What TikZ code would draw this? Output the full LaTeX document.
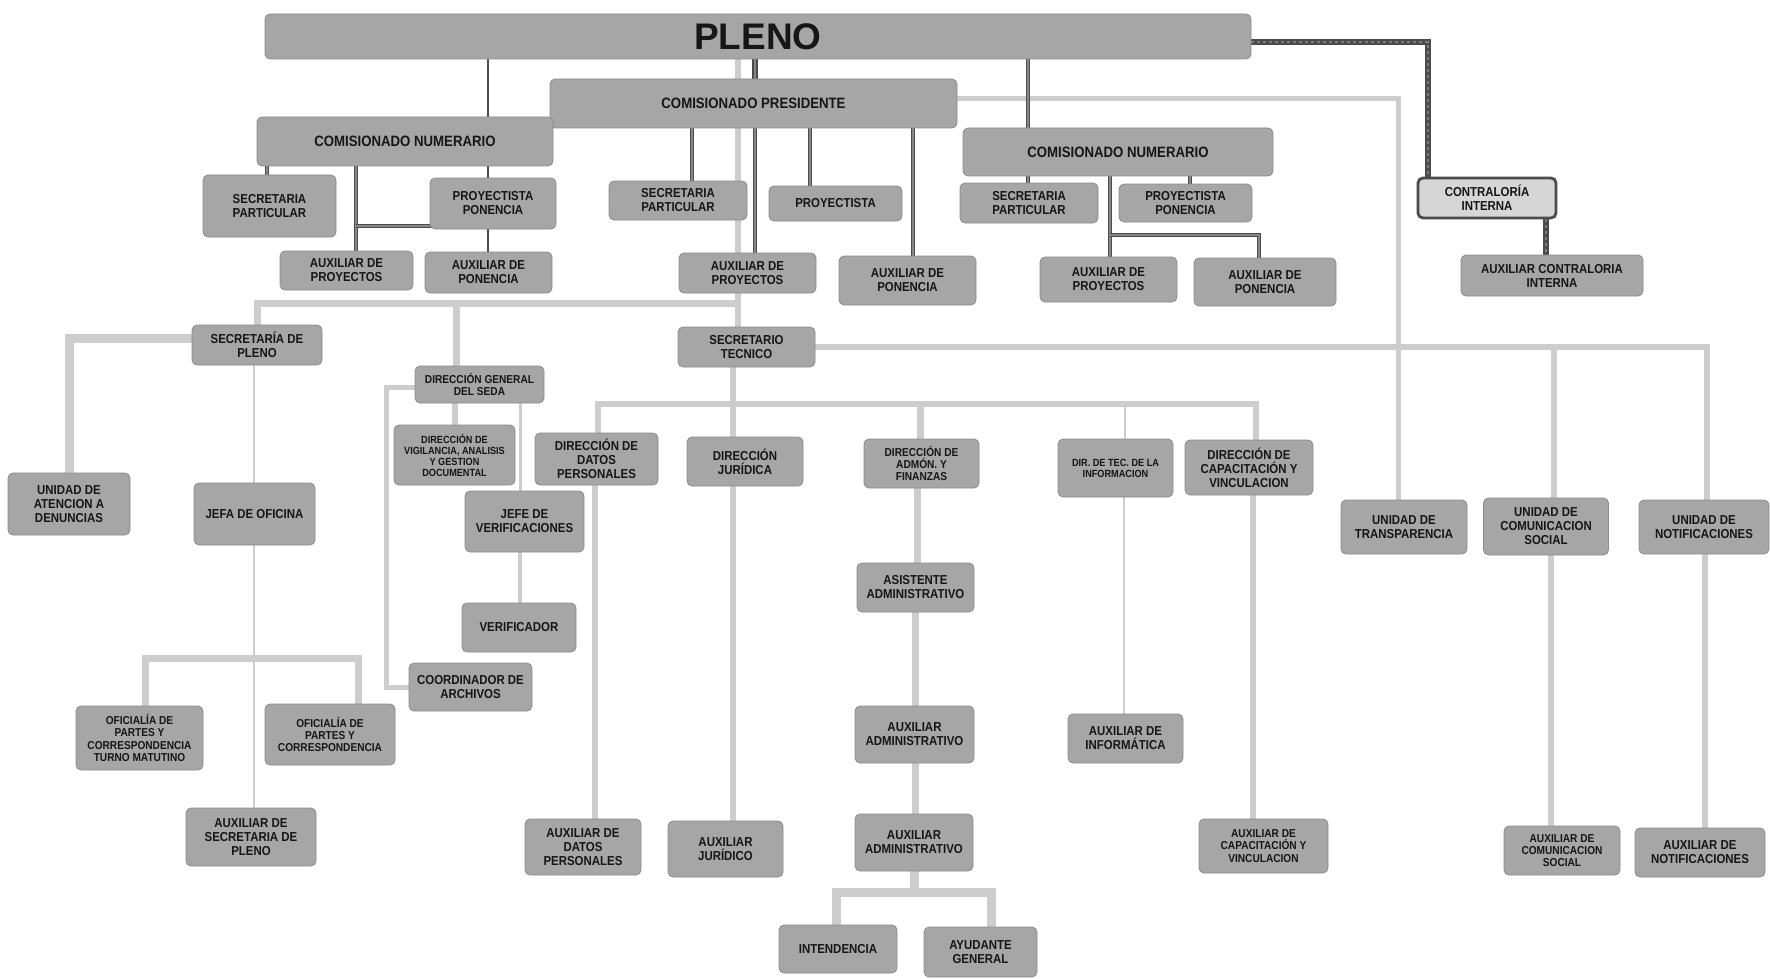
\documentclass[tikz,border=0pt]{standalone}
\usepackage{fontspec}
\setmainfont{Liberation Sans}[FakeStretch=0.88]
\newfontfamily\plenofont{Liberation Sans}
\definecolor{boxc}{RGB}{166,166,166}
\definecolor{boxe}{RGB}{140,140,140}
\definecolor{lgt}{RGB}{205,205,205}
\definecolor{dkc}{RGB}{75,75,75}
\definecolor{dkin}{RGB}{135,135,135}
\definecolor{txt}{RGB}{22,22,22}
\definecolor{ctrf}{RGB}{214,214,214}
\definecolor{dash}{RGB}{125,125,125}
\pgfdeclarelayer{paper}
\pgfdeclarelayer{lite}
\pgfdeclarelayer{dark}
\pgfsetlayers{paper,lite,dark,main}
\begin{document}
\begin{tikzpicture}[x=1pt,y=-1pt,
  bx/.style={fill=boxc, draw=boxe, line width=0.8pt, rounded corners=5pt, inner sep=0pt, align=center, text=txt, font=\bfseries\fontsize{13}{14}\selectfont},
  wh/.style 2 args={minimum width=#1pt, minimum height=#2pt},
  fbig/.style={font=\bfseries\fontsize{15}{16}\selectfont},
  fsm/.style={font=\bfseries\fontsize{11.5}{12.3}\selectfont},
  fxs/.style={font=\bfseries\fontsize{10.4}{11}\selectfont},
  lt/.style={draw=lgt, line width=#1pt},
  lt/.default=6,
  dk/.style={draw=dkc, line width=1.4pt, double=dkin, double distance=1.8pt},
  dkt/.style={draw=dkc, line width=1.6pt},
  wv/.style={draw=dkc, line width=6.5pt},
  wvi/.style={draw=dash, line width=2pt, dash pattern=on 3pt off 3pt}
]
\useasboundingbox (0,0) rectangle (1770,979);
\begin{pgfonlayer}{paper}
\fill[white] (0,0) rectangle (1770,979);
\end{pgfonlayer}

\foreach \v in {488,755,1028,267,356,692,810,913,1190,1110,1259,1428,1546,738,733,456,1398,1707,1554,598,920,1125,1256,917,915,1124,595,1253,1551,1705,69,254,386,455,520,145,358,836,991}
  \coordinate (c\v) at (\v,0);
\foreach \v in {303,99,404,892,338,658,387,226,235,42}
  \coordinate (b\v) at (0,\v);

% ---------- top level ----------
\node[bx, wh={986}{45}] (pleno) at (758,36.5) {\plenofont\fontsize{37}{40}\selectfont PLENO};
\node[bx, wh={407}{49}, fbig] (cp) at (753.5,103.5) {COMISIONADO PRESIDENTE};
\node[bx, wh={296}{49}, fbig] (cn1) at (405,141.5) {COMISIONADO NUMERARIO};
\node[bx, wh={310}{48}, fbig] (cn2) at (1118,152) {COMISIONADO NUMERARIO};

\node[bx, wh={133}{62}] (sp1) at (269.5,206) {SECRETARIA\\PARTICULAR};
\node[bx, wh={126}{51}] (pp1) at (493,203.5) {PROYECTISTA\\PONENCIA};
\node[bx, wh={133}{39}] (ap1) at (346.5,270.5) {AUXILIAR DE\\PROYECTOS};
\node[bx, wh={127}{41}] (apn1) at (488.5,272.5) {AUXILIAR DE\\PONENCIA};

\node[bx, wh={138}{39}] (sp2) at (678,200.5) {SECRETARIA\\PARTICULAR};
\node[bx, wh={133}{35}] (pr2) at (835.5,203.5) {PROYECTISTA};
\node[bx, wh={137}{40}] (ap2) at (747.5,273) {AUXILIAR DE\\PROYECTOS};
\node[bx, wh={137}{49}] (apn2) at (907.5,280.5) {AUXILIAR DE\\PONENCIA};

\node[bx, wh={138}{40}] (sp3) at (1029,203) {SECRETARIA\\PARTICULAR};
\node[bx, wh={133}{38}] (pp3) at (1185.5,203) {PROYECTISTA\\PONENCIA};
\node[bx, wh={137}{45}] (ap3) at (1108.5,279.5) {AUXILIAR DE\\PROYECTOS};
\node[bx, wh={142}{48}] (apn3) at (1265,282) {AUXILIAR DE\\PONENCIA};

\node[bx, wh={138}{40}, fill=ctrf, draw=dkc, line width=2.8pt] (ctr) at (1487,198) {CONTRALORÍA\\INTERNA};
\node[bx, wh={182}{41}] (actr) at (1552,275.5) {AUXILIAR CONTRALORIA\\INTERNA};

% ---------- lower levels ----------
\node[bx, wh={130}{40}] (sp) at (257,345) {SECRETARÍA DE\\PLENO};
\node[bx, wh={137}{40}] (st) at (746.5,347) {SECRETARIO\\TECNICO};
\node[bx, wh={129}{37}, fsm] (dg) at (479.5,384.5) {DIRECCIÓN GENERAL\\DEL SEDA};
\node[bx, wh={121}{60}, fxs] (dv) at (454.5,455) {DIRECCIÓN DE\\VIGILANCIA, ANALISIS\\Y GESTION\\DOCUMENTAL};
\node[bx, wh={123}{52}] (ddp) at (596.5,459) {DIRECCIÓN DE\\DATOS\\PERSONALES};
\node[bx, wh={116}{49}] (dj) at (745,461.5) {DIRECCIÓN\\JURÍDICA};
\node[bx, wh={115}{49}, fsm] (daf) at (921.5,463.5) {DIRECCIÓN DE\\ADMÓN. Y\\FINANZAS};
\node[bx, wh={115}{58}, fxs] (dti) at (1115.5,468) {DIR. DE TEC. DE LA\\INFORMACION};
\node[bx, wh={128}{55}] (dcv) at (1249,467.5) {DIRECCIÓN DE\\CAPACITACIÓN Y\\VINCULACION};

\node[bx, wh={122}{62}] (ua) at (69,504) {UNIDAD DE\\ATENCION A\\DENUNCIAS};
\node[bx, wh={121}{62}] (jefa) at (254.5,514) {JEFA DE OFICINA};
\node[bx, wh={119}{61}] (jv) at (524.5,521.5) {JEFE DE\\VERIFICACIONES};
\node[bx, wh={114}{49}] (ver) at (519,627.5) {VERIFICADOR};
\node[bx, wh={117}{49}] (asis) at (915.5,587.5) {ASISTENTE\\ADMINISTRATIVO};
\node[bx, wh={126}{54}] (ut) at (1404,527) {UNIDAD DE\\TRANSPARENCIA};
\node[bx, wh={125}{57}] (ucs) at (1546,526.5) {UNIDAD DE\\COMUNICACION\\SOCIAL};
\node[bx, wh={130}{54}] (un) at (1704,527) {UNIDAD DE\\NOTIFICACIONES};

\node[bx, wh={123}{48}] (coord) at (470.5,687) {COORDINADOR DE\\ARCHIVOS};
\node[bx, wh={127}{64}, fsm] (otm) at (139.5,738) {OFICIALÍA DE\\PARTES Y\\CORRESPONDENCIA\\TURNO MATUTINO};
\node[bx, wh={130}{61}, fsm] (of) at (330,734.5) {OFICIALÍA DE\\PARTES Y\\CORRESPONDENCIA};
\node[bx, wh={119}{57}] (aa1) at (914.5,734.5) {AUXILIAR\\ADMINISTRATIVO};
\node[bx, wh={115}{49}] (ainf) at (1125.5,738.5) {AUXILIAR DE\\INFORMÁTICA};

\node[bx, wh={130}{58}] (asp) at (251,837) {AUXILIAR DE\\SECRETARIA DE\\PLENO};
\node[bx, wh={116}{56}] (adp) at (583,847) {AUXILIAR DE\\DATOS\\PERSONALES};
\node[bx, wh={115}{56}] (auxj) at (725.5,849) {AUXILIAR\\JURÍDICO};
\node[bx, wh={118}{57}] (aa2) at (914,842.5) {AUXILIAR\\ADMINISTRATIVO};
\node[bx, wh={129}{54}, fsm] (acap) at (1263.5,846) {AUXILIAR DE\\CAPACITACIÓN Y\\VINCULACION};
\node[bx, wh={116}{49}, fsm] (acs) at (1562,850.5) {AUXILIAR DE\\COMUNICACION\\SOCIAL};
\node[bx, wh={130}{49}] (anot) at (1700,852.5) {AUXILIAR DE\\NOTIFICACIONES};
\node[bx, wh={118}{48}] (int) at (838,949) {INTENDENCIA};
\node[bx, wh={113}{50}] (ayu) at (980.5,952) {AYUDANTE\\GENERAL};

% ---------- light connectors ----------
\begin{pgfonlayer}{lite}
\draw[lt=6] (pleno.south -| c738) -- (st.north -| c738);
\draw[lt=7] (sp.north) -- (sp.north |- b303) -- (c738 |- b303);
\draw[lt=7] (dg.north -| c456) -- (c456 |- b303);
\draw[lt=5] (c738 |- b99) -- (c1398 |- b99) -- (ut.north -| c1398);
\draw[lt=6] (st.south -| c733) -- (dj.north -| c733);
\draw[lt=6] (dj.south -| c733) -- (auxj.north -| c733);
\draw[lt=6] (st.east) -- (c1707 |- st.east) -- (un.north -| c1707);
\draw[lt=6] (ucs.north -| c1554) -- (c1554 |- st.east);
\draw[lt=6] (ddp.north -| c598) -- (c598 |- b404) -- (c1256 |- b404) -- (dcv.north -| c1256);
\draw[lt=7] (daf.north -| c920) -- (c920 |- b404);
\draw[lt=2.5] (dti.north -| c1125) -- (c1125 |- b404);
\draw[lt=7] (daf.south -| c917) -- (asis.north -| c917);
\draw[lt=7] (asis.south -| c915) -- (aa1.north -| c915);
\draw[lt=7] (aa1.south -| c915) -- (aa2.north -| c915);
\draw[lt=9] (aa2.south) -- (aa2.south |- b892);
\draw[lt=9] (int.north -| c836) -- (c836 |- b892) -- (c991 |- b892) -- (ayu.north -| c991);
\draw[lt=2.5] (dti.south -| c1124) -- (ainf.north -| c1124);
\draw[lt=6] (ddp.south -| c595) -- (adp.north -| c595);
\draw[lt=6] (dcv.south -| c1253) -- (acap.north -| c1253);
\draw[lt=6] (ucs.south -| c1551) -- (acs.north -| c1551);
\draw[lt=6] (un.south -| c1705) -- (anot.north -| c1705);
\draw[lt=9] (sp.west |- b338) -- (c69 |- b338) -- (ua.north -| c69);
\draw[lt=2] (sp.south -| c254) -- (jefa.north -| c254);
\draw[lt=2] (jefa.south -| c254) -- (asp.north -| c254);
\draw[lt=7] (otm.north -| c145) -- (c145 |- b658) -- (c358 |- b658) -- (of.north -| c358);
\draw[lt=5] (dg.west |- b387) -- (c386 |- b387) -- (c386 |- coord.west) -- (coord.west);
\draw[lt=6] (dg.south -| c455) -- (dv.north -| c455);
\draw[lt=3] (dg.south -| c520) -- (jv.north -| c520);
\draw[lt=4] (jv.south -| c520) -- (ver.north -| c520);
\end{pgfonlayer}

% ---------- dark connectors ----------
\begin{pgfonlayer}{dark}
\draw[dkt] (pleno.south -| c488) -- (cn1.north -| c488);
\draw[dk, line width=1.8pt, double distance=2pt] (pleno.south -| c755) -- (cp.north -| c755);
\draw[dk] (pleno.south -| c1028) -- (cn2.north -| c1028);
\draw[dk] (cn1.south -| c267) -- (sp1.north -| c267);
\draw[dk] (cn1.south -| c356) -- (ap1.north -| c356);
\draw[dkt] (cn1.south -| c488) -- (pp1.north -| c488);
\draw[dkt] (pp1.south -| c488) -- (apn1.north -| c488);
\draw[dk] (c356 |- b226) -- (c488 |- b226);
\draw[dk] (cp.south -| c692) -- (sp2.north -| c692);
\draw[dk] (cp.south -| c755) -- (ap2.north -| c755);
\draw[dk] (cp.south -| c810) -- (pr2.north -| c810);
\draw[dk] (cp.south -| c913) -- (apn2.north -| c913);
\draw[dk] (cn2.south -| c1028) -- (sp3.north -| c1028);
\draw[dk] (cn2.south -| c1190) -- (pp3.north -| c1190);
\draw[dk] (cn2.south -| c1110) -- (ap3.north -| c1110);
\draw[dk] (c1110 |- b235) -- (c1259 |- b235) -- (apn3.north -| c1259);
\draw[wv] (pleno.east |- b42) -- (c1428 |- b42) -- (ctr.north -| c1428);
\draw[wvi] (pleno.east |- b42) -- (c1428 |- b42) -- (ctr.north -| c1428);
\draw[wv] (ctr.south -| c1546) -- (actr.north -| c1546);
\draw[wvi] (ctr.south -| c1546) -- (actr.north -| c1546);
\end{pgfonlayer}
\end{tikzpicture}
\end{document}
